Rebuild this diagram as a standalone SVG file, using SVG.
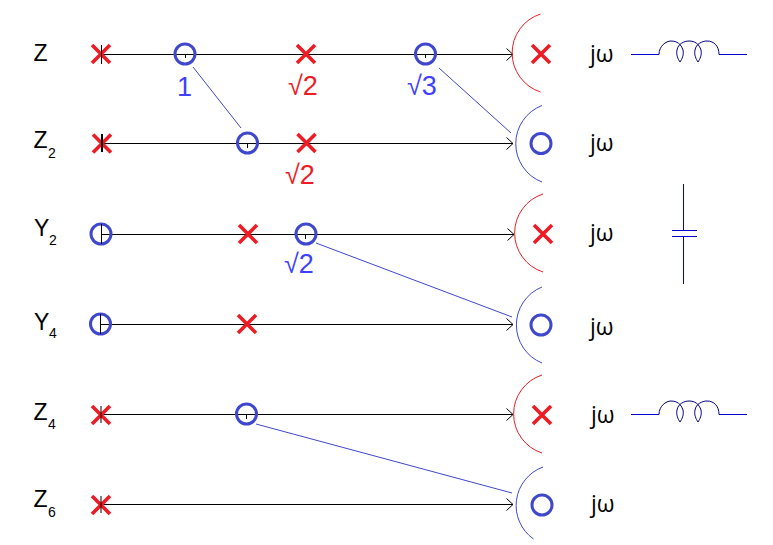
<svg xmlns="http://www.w3.org/2000/svg" width="773" height="545" viewBox="0 0 773 545">
<style>
text{font-family:"Liberation Sans",Arial,sans-serif}
.lab{font-size:23px;fill:#000}
.sub{font-size:14px;fill:#000}
.jw{font-family:"Open Sans","Noto Sans",sans-serif;font-size:23px;fill:#000}
.bv{font-size:27px;fill:#3f3fff}
.rv{font-size:27px;fill:#ed1c24}
.axis{stroke:#000;stroke-width:1;fill:none;marker-end:url(#arr)}
.tick{stroke:#000;stroke-width:1;fill:none}
.link{stroke:#3f48cc;stroke-width:1;fill:none}
.ra{stroke:#ed1c24;stroke-width:1;fill:none}
.ba{stroke:#3f48cc;stroke-width:1;fill:none}
.x{stroke:#ed1c24;stroke-width:3.6;fill:none}
.o{stroke:#3f48cc;stroke-width:3;fill:none}
.el{stroke:#0000c8;stroke-width:1;fill:none}
.coil{stroke:#000080;stroke-width:1;fill:none}
</style>
<defs>
<marker id="arr" markerUnits="userSpaceOnUse" markerWidth="10" markerHeight="14" refX="7" refY="6.500" orient="auto"><path d="M0.500 0.500L7 6.500L0.500 12.500" fill="none" stroke="#000" stroke-width="1"/></marker>
<g id="cross"><path class="x" d="M-9-9L9 9M-9 9L9-9"/></g>
<g id="ring"><circle class="o" r="10"/></g>
<g id="ind">
<path class="el" d="M631 0.500H659M719 0.500H747"/>
<path class="coil" d="M659 0.500C659-8 666-13 671-13C677-13 681-10 683-4C684 1 682 5 680 8C678 5 676 1 677-4C678-10 684-13 689-13C695-13 699-10 701-4C702 1 700 5 698 8C696 5 694 1 695-4C696-10 702-13 707-13C714-13 719-8 719 0.500"/>
</g>
</defs>
<g id="connectors">
<path class="axis" d="M101 54.500H513"/>
<path class="axis" d="M102 143.500H513"/>
<path class="axis" d="M101 234.500H514"/>
<path class="axis" d="M100 324.500H513"/>
<path class="axis" d="M101 414.500H513"/>
<path class="axis" d="M101 504.500H513"/>
<path class="link" d="M193 67L241 128"/>
<path class="link" d="M439 68L511 133"/>
<path class="link" d="M316 243L512 317"/>
<path class="link" d="M256 424L512 493"/>
</g>
<g id="row-z">
<text class="lab" x="33.500" y="61">Z</text>
<use href="#cross" x="101" y="54"/><path class="tick" d="M101.500 45V64"/>
<use href="#ring" x="185" y="54"/><path class="tick" d="M185.500 54V58"/>
<text class="bv" x="177" y="96">1</text>
<use href="#cross" x="306" y="54"/>
<text class="rv" x="288" y="95">√2</text>
<use href="#ring" x="425.500" y="54"/><path class="tick" d="M425.500 54V58"/>
<text class="bv" x="407" y="95">√3</text>
<path class="ra" d="M540.500 14A41 41 0 0 0 540.500 92"/>
<use href="#cross" x="541" y="54"/>
<text class="jw" x="590" y="62">jω</text>
<use href="#ind" y="54"/>
</g>
<g id="row-z2">
<text class="lab" x="33.500" y="148">Z</text><text class="sub" x="48" y="158">2</text>
<use href="#cross" x="102" y="143.500"/><path class="tick" d="M102 134V152" style="stroke-width:2"/>
<use href="#ring" x="247.500" y="143"/><path class="tick" d="M247.500 143V148"/>
<use href="#cross" x="306.500" y="143"/>
<text class="rv" x="285" y="184">√2</text>
<path class="ba" d="M542 105.500A41 41 0 0 0 542 182"/>
<use href="#ring" x="541" y="143.500"/>
<text class="jw" x="590" y="151">jω</text>
</g>
<g id="row-y2">
<text class="lab" x="34" y="236">Y</text><text class="sub" x="49" y="245">2</text>
<use href="#ring" x="101" y="234"/><path class="tick" d="M101.500 224V244"/>
<use href="#cross" x="248" y="234"/>
<use href="#ring" x="306" y="234"/><path class="tick" d="M305.500 234V239"/>
<text class="bv" x="284" y="273">√2</text>
<path class="ra" d="M543 194A41 41 0 0 0 543 272"/>
<use href="#cross" x="543" y="234"/>
<text class="jw" x="590" y="241">jω</text>
<path class="el" d="M683.500 184V230M683.500 236V284M672 230.500H697M672 236.500H697"/>
</g>
<g id="row-y4">
<text class="lab" x="34" y="330">Y</text><text class="sub" x="49" y="338">4</text>
<use href="#ring" x="100.500" y="324"/><path class="tick" d="M100.500 314V334"/>
<use href="#cross" x="247" y="324"/>
<path class="ba" d="M542 287A41 41 0 0 0 542 363"/>
<use href="#ring" x="541" y="325"/>
<text class="jw" x="590" y="335">jω</text>
</g>
<g id="row-z4">
<text class="lab" x="33.500" y="420">Z</text><text class="sub" x="48" y="429">4</text>
<use href="#cross" x="101" y="415"/><path class="tick" d="M101 406V423"/>
<use href="#ring" x="246.500" y="414"/><path class="tick" d="M246.500 414V419"/>
<path class="ra" d="M542 375A41 41 0 0 0 542 453"/>
<use href="#cross" x="542" y="415"/>
<text class="jw" x="591" y="423">jω</text>
<use href="#ind" y="414"/>
</g>
<g id="row-z6">
<text class="lab" x="33.500" y="507">Z</text><text class="sub" x="48" y="517">6</text>
<use href="#cross" x="101" y="505"/><path class="tick" d="M101 496V513"/>
<path class="ba" d="M543 467A41 41 0 0 0 533.500 539"/>
<use href="#ring" x="542" y="505"/>
<text class="jw" x="591" y="512">jω</text>
</g>
</svg>
